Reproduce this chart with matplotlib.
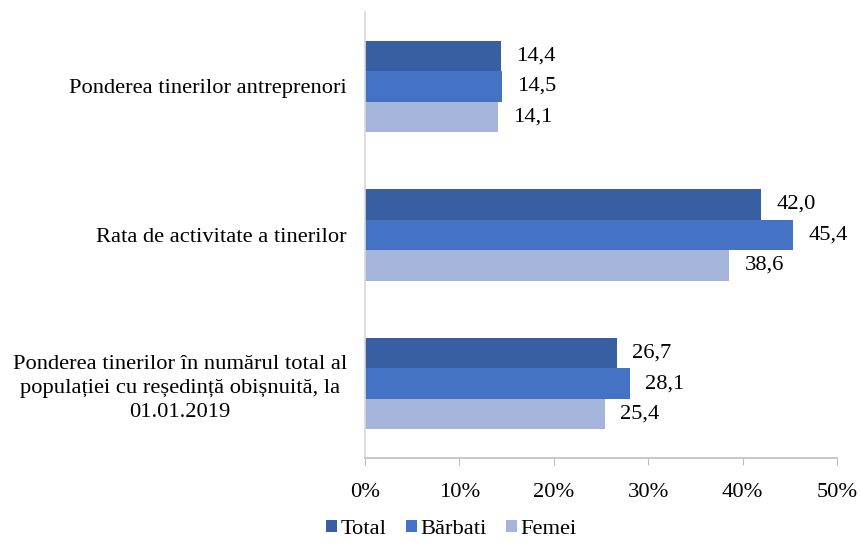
import numpy as np
import matplotlib.pyplot as plt
from matplotlib.ticker import FuncFormatter

plt.rcParams['font.family'] = ['Liberation Serif', 'DejaVu Serif']

# Datele graficului
categorii = ['Ponderea tinerilor antreprenori',
             'Rata de activitate a tinerilor',
             'Ponderea tinerilor în numărul total al\npopulației cu reședință obișnuită, la\n01.01.2019']
total = [14.4, 42.0, 26.7]
barbati = [14.5, 45.4, 28.1]
femei = [14.1, 38.6, 25.4]
serii = ['Total', 'Bărbati', 'Femei']
culori = ['#375FA2', '#4472C4', '#A5B4DA']

fs = 16.2
fig = plt.figure(figsize=(8.61, 5.43), dpi=100)
ax = fig.add_axes([0.424, 0.1565, 0.548, 0.8215])

y = np.arange(len(categorii))
h = 0.205
for i, (vals, nume, c) in enumerate(zip([total, barbati, femei], serii, culori)):
    pos = y + (i - 1) * h
    bars = ax.barh(pos, vals, height=h, color=c, label=nume)
    for b, v in zip(bars, vals):
        ax.text(v + 1.6, b.get_y() + b.get_height() / 2, f'{v:.1f}'.replace('.', ','),
                va='center', ha='left', fontsize=fs)

ax.set_ylim(2.5, -0.5)
ax.set_xlim(0, 50)
ax.set_xticks(np.arange(0, 51, 10))
ax.xaxis.set_major_formatter(FuncFormatter(lambda x, p: f'{x:.0f}%'))
ax.set_yticks(y)
ax.set_yticklabels(categorii, fontsize=fs, ha='right', multialignment='center',
                   linespacing=1.35)
ax.tick_params(axis='y', length=0, pad=13)
ax.tick_params(axis='x', labelsize=fs, length=5, color='#BFBFBF', pad=13)

for s in ['top', 'right']:
    ax.spines[s].set_visible(False)
ax.spines['left'].set_color('#D9D9D9')
ax.spines['bottom'].set_color('#BFBFBF')
ax.spines['left'].set_linewidth(1.2)
ax.spines['bottom'].set_linewidth(1.2)

fig.legend(loc='lower center', bbox_to_anchor=(0.524, -0.03), ncol=3, frameon=False,
           fontsize=fs, handlelength=0.5, handleheight=0.5, handletextpad=0.15,
           columnspacing=0.86)

fig.savefig('out.png', dpi=100)
